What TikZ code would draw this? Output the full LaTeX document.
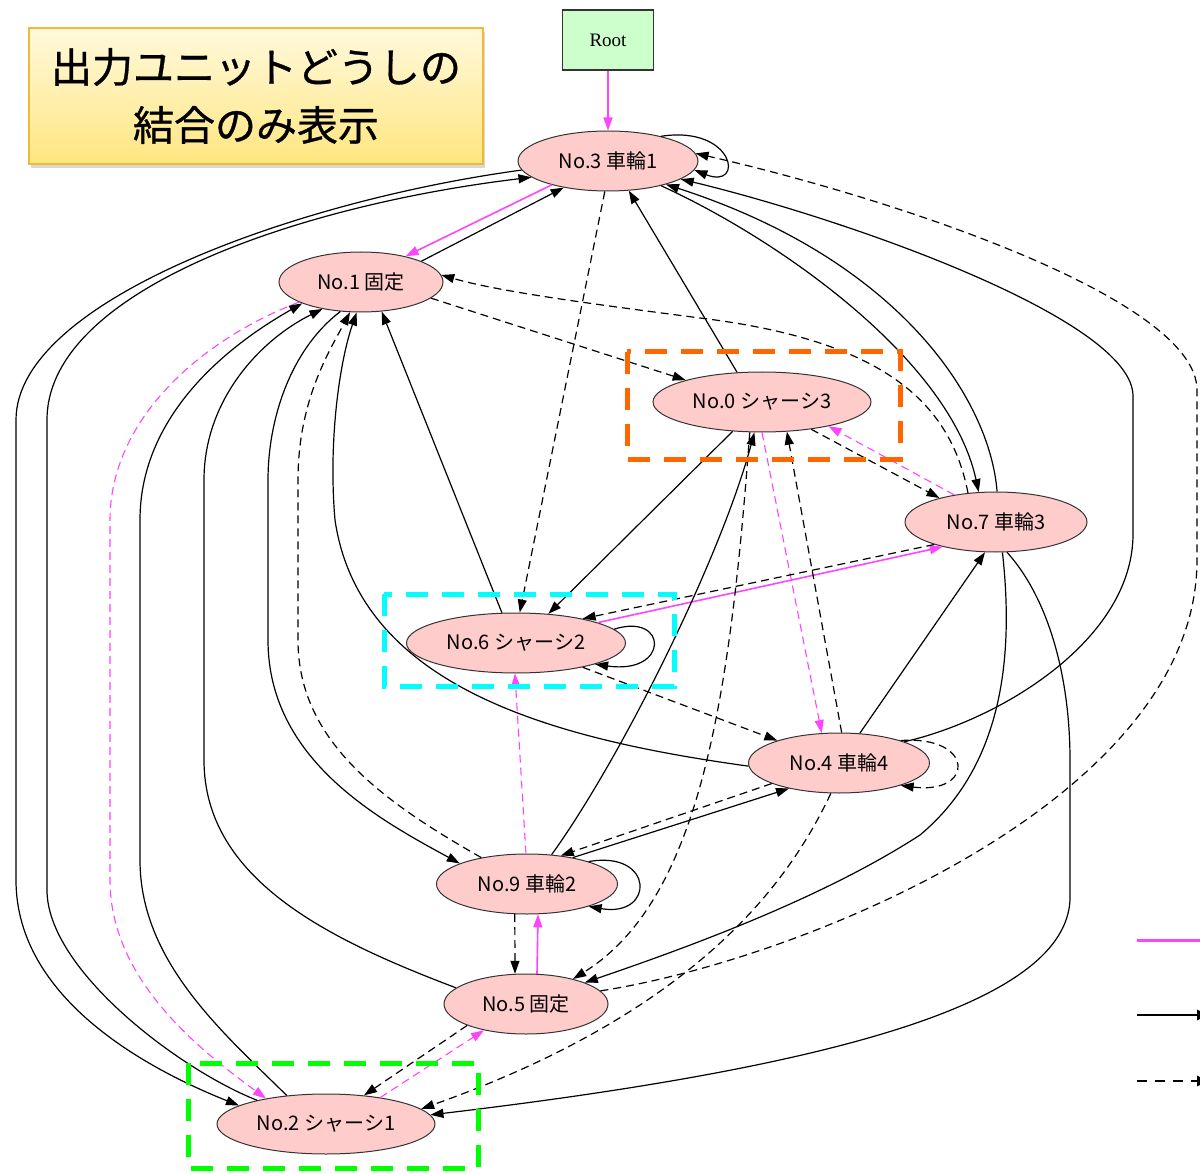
\documentclass[tikz,border=0pt]{standalone}
\usepackage{fontspec}
\newfontfamily\jpfont{Noto Sans CJK JP}
\newfontfamily\jptitle[FakeBold=0.8]{Noto Sans CJK JP}
\newfontfamily\rootfont{Liberation Serif}
\usetikzlibrary{shapes.geometric,arrows.meta,shadows}
\definecolor{unitpink}{HTML}{FFCCCC}
\definecolor{rootgreen}{HTML}{CCFFCC}
\definecolor{linkmag}{HTML}{FF44FF}
\definecolor{grporange}{HTML}{FF6600}
\definecolor{grpcyan}{HTML}{00FFFF}
\definecolor{grpgreen}{HTML}{00FF00}
\definecolor{titletop}{HTML}{FFF9DC}
\definecolor{titlebot}{HTML}{FFE680}
\definecolor{titleedge}{HTML}{F2B83A}

\begin{document}
\begin{tikzpicture}[x=1pt,y=-1pt,
    unit/.style={draw=black!80, line width=1pt, fill=unitpink, ellipse,
      inner sep=0pt, minimum height=60pt, font=\jpfont\fontsize{20}{24}\selectfont},
    headed/.style={-{Triangle[length=13pt,width=9pt]}},
    sol/.style={headed, line width=1.2pt},
    dsh/.style={sol, dash pattern=on 8pt off 5pt},
    mag/.style={headed, draw=linkmag, line width=1.6pt},
    magd/.style={mag, line width=1.1pt, dash pattern=on 8pt off 5pt},
    grp/.style={line width=5pt, dash pattern=on 22pt off 14pt}]
  \useasboundingbox (0,0) rectangle (1200,1174);

  % title
  \node[draw=titleedge, line width=1.5pt, top color=titletop, bottom color=titlebot,
    drop shadow={shadow xshift=2pt, shadow yshift=-4pt, opacity=0.3},
    minimum width=454pt, minimum height=136pt, align=center,
    font=\jptitle\fontsize{41}{58}\selectfont] (title) at (256,96)
    {出力ユニットどうしの\\結合のみ表示};

  % units
  \node[draw=black!80, line width=1.3pt, fill=rootgreen, minimum width=91pt,
    minimum height=60pt, font=\rootfont\fontsize{19}{22}\selectfont] (root) at (608,40) {Root};
  \node[unit, minimum width=180pt] (n3) at (608,161) {No.3 車輪1};
  \node[unit, minimum width=164pt] (n1) at (361,282) {No.1 固定};
  \node[unit, minimum width=218pt] (n0) at (762,402) {No.0 シャーシ3};
  \node[unit, minimum width=182pt] (n7) at (996,522) {No.7 車輪3};
  \node[unit, minimum width=219pt] (n6) at (516,643) {No.6 シャーシ2};
  \node[unit, minimum width=181pt] (n4) at (839,763) {No.4 車輪4};
  \node[unit, minimum width=181pt] (n9) at (527,884) {No.9 車輪2};
  \node[unit, minimum width=164pt] (n5) at (526,1004) {No.5 固定};
  \node[unit, minimum width=218pt] (n2) at (326,1124) {No.2 シャーシ1};

  % magenta links
  \draw[mag] (root) -- (n3);
  \draw[mag] (n3.203) -- (n1.30);
  \draw[mag] (n6.14) -- (n7.205);
  \draw[mag] (n5.70) -- (n9.290);
  \draw[magd] (n0.270) -- (n4.120);
  \draw[magd] (n7.147) -- (n0.340);
  \draw[magd] (n9.92) -- (n6.268);
  \draw[magd] (n2.26) -- (n5.212);
  \draw[magd] (n1.198) .. controls (200,340) and (110,420) .. (110,520)
    -- (110,880) .. controls (110,980) and (200,1050) .. (n2.157);

  % solid links
  \draw[sol] (n1.19) -- (n3.211);
  \draw[sol] (n0.130) -- (n3.305);
  \draw[sol] (n0.225) -- (n6.42);
  \draw[sol] (n6.115) -- (n1.305);
  \draw[sol] (n4.55) -- (n7.250);
  \draw[sol] (n9.30) -- (n4.207);
  \draw[sol] (n9.50) .. controls (620,760) and (720,560) .. (n0.256);
  \draw[sol] (n3.25) .. controls (735,125) and (745,190) .. (n3.354);
  \draw[sol] (n6.8) .. controls (668,612) and (670,675) .. (n6.345);
  \draw[sol] (n9.20) .. controls (655,850) and (655,918) .. (n9.340);
  \draw[sol] (n3.186) .. controls (300,200) and (16,300) .. (16,420)
    -- (16,880) .. controls (16,1000) and (150,1070) .. (n2.168);
  \draw[sol] (n2.161) .. controls (180,1070) and (47,970) .. (47,890)
    -- (47,420) .. controls (47,290) and (300,205) .. (n3.192);
  \draw[sol] (n2.144) .. controls (220,1030) and (140,960) .. (140,860)
    -- (140,520) .. controls (140,420) and (220,350) .. (n1.200);
  \draw[sol] (n5.167) .. controls (330,940) and (204,880) .. (204,760)
    -- (204,480) .. controls (204,400) and (260,340) .. (n1.215);
  \draw[sol] (n1.235) .. controls (290,350) and (268,420) .. (268,480)
    -- (268,640) .. controls (268,760) and (380,820) .. (n9.163);
  \draw[sol] (n4.182) .. controls (560,740) and (360,690) .. (335,520)
    .. controls (328,440) and (340,360) .. (n1.262);
  \draw[sol] (n4.18) .. controls (1000,720) and (1133,640) .. (1133,534)
    -- (1133,396) .. controls (1133,320) and (850,220) .. (n3.346);
  \draw[sol] (n3.335) .. controls (780,240) and (950,360) .. (n7.120);
  \draw[sol] (n7.88) .. controls (990,400) and (900,260) .. (n3.338);
  \draw[sol] (n7.282) .. controls (1012,640) and (1010,760) .. (920,835)
    .. controls (820,900) and (680,950) .. (n5.20);
  \draw[sol] (n7.290) .. controls (1050,600) and (1070,680) .. (1070,760)
    -- (1070,900) .. controls (1065,1000) and (850,1065) .. (n2.5);

  % dashed links
  \draw[dsh] (n3.264) -- (n6.83);
  \draw[dsh] (n1.347) -- (n0.164);
  \draw[dsh] (n7.134) .. controls (950,400) and (880,340) .. (700,318)
    .. controls (600,305) and (500,292) .. (n1.5);
  \draw[dsh] (n0.331) -- (n7.157);
  \draw[dsh] (n4.85) -- (n0.310);
  \draw[dsh] (n7.200) -- (n6.20);
  \draw[dsh] (n6.340) -- (n4.160);
  \draw[dsh] (n4.197) -- (n9.40);
  \draw[dsh] (n9.248) -- (n5.110);
  \draw[dsh] (n5.200) -- (n2.37);
  \draw[dsh] (n4.20) .. controls (975,735) and (975,795) .. (n4.340);
  \draw[dsh] (n0.248) .. controls (730,700) and (700,900) .. (n5.28);
  \draw[dsh] (n4.255) .. controls (790,880) and (700,1010) .. (n2.9);
  \draw[dsh] (n9.150) .. controls (380,800) and (298,740) .. (298,640)
    -- (298,480) .. controls (298,400) and (330,350) .. (n1.250);
  \draw[dsh] (n5.10) .. controls (800,960) and (1197,800) .. (1197,560)
    -- (1197,390) .. controls (1197,300) and (900,200) .. (n3.5);

  % groups
  \draw[grp, grporange] (627,352) rectangle (900,459);
  \draw[grp, grpcyan] (384,594) rectangle (674,686);
  \draw[grp, grpgreen] (188,1063) rectangle (478,1168);

  % legend
  \coordinate (lgm) at (1137,940);
  \coordinate (lgm') at (1210,940);
  \coordinate (lgs) at (1137,1015);
  \coordinate (lgs') at (1209,1015);
  \coordinate (lgd) at (1137,1081);
  \coordinate (lgd') at (1209,1081);
  \draw[linkmag, line width=3pt] (lgm) -- (lgm');
  \draw[line width=2.5pt, -{Triangle[length=12pt,width=10pt]}] (lgs) -- (lgs');
  \draw[line width=2.5pt, dash pattern=on 10pt off 8pt, -{Triangle[length=12pt,width=10pt]}] (lgd) -- (lgd');
\end{tikzpicture}
\end{document}
